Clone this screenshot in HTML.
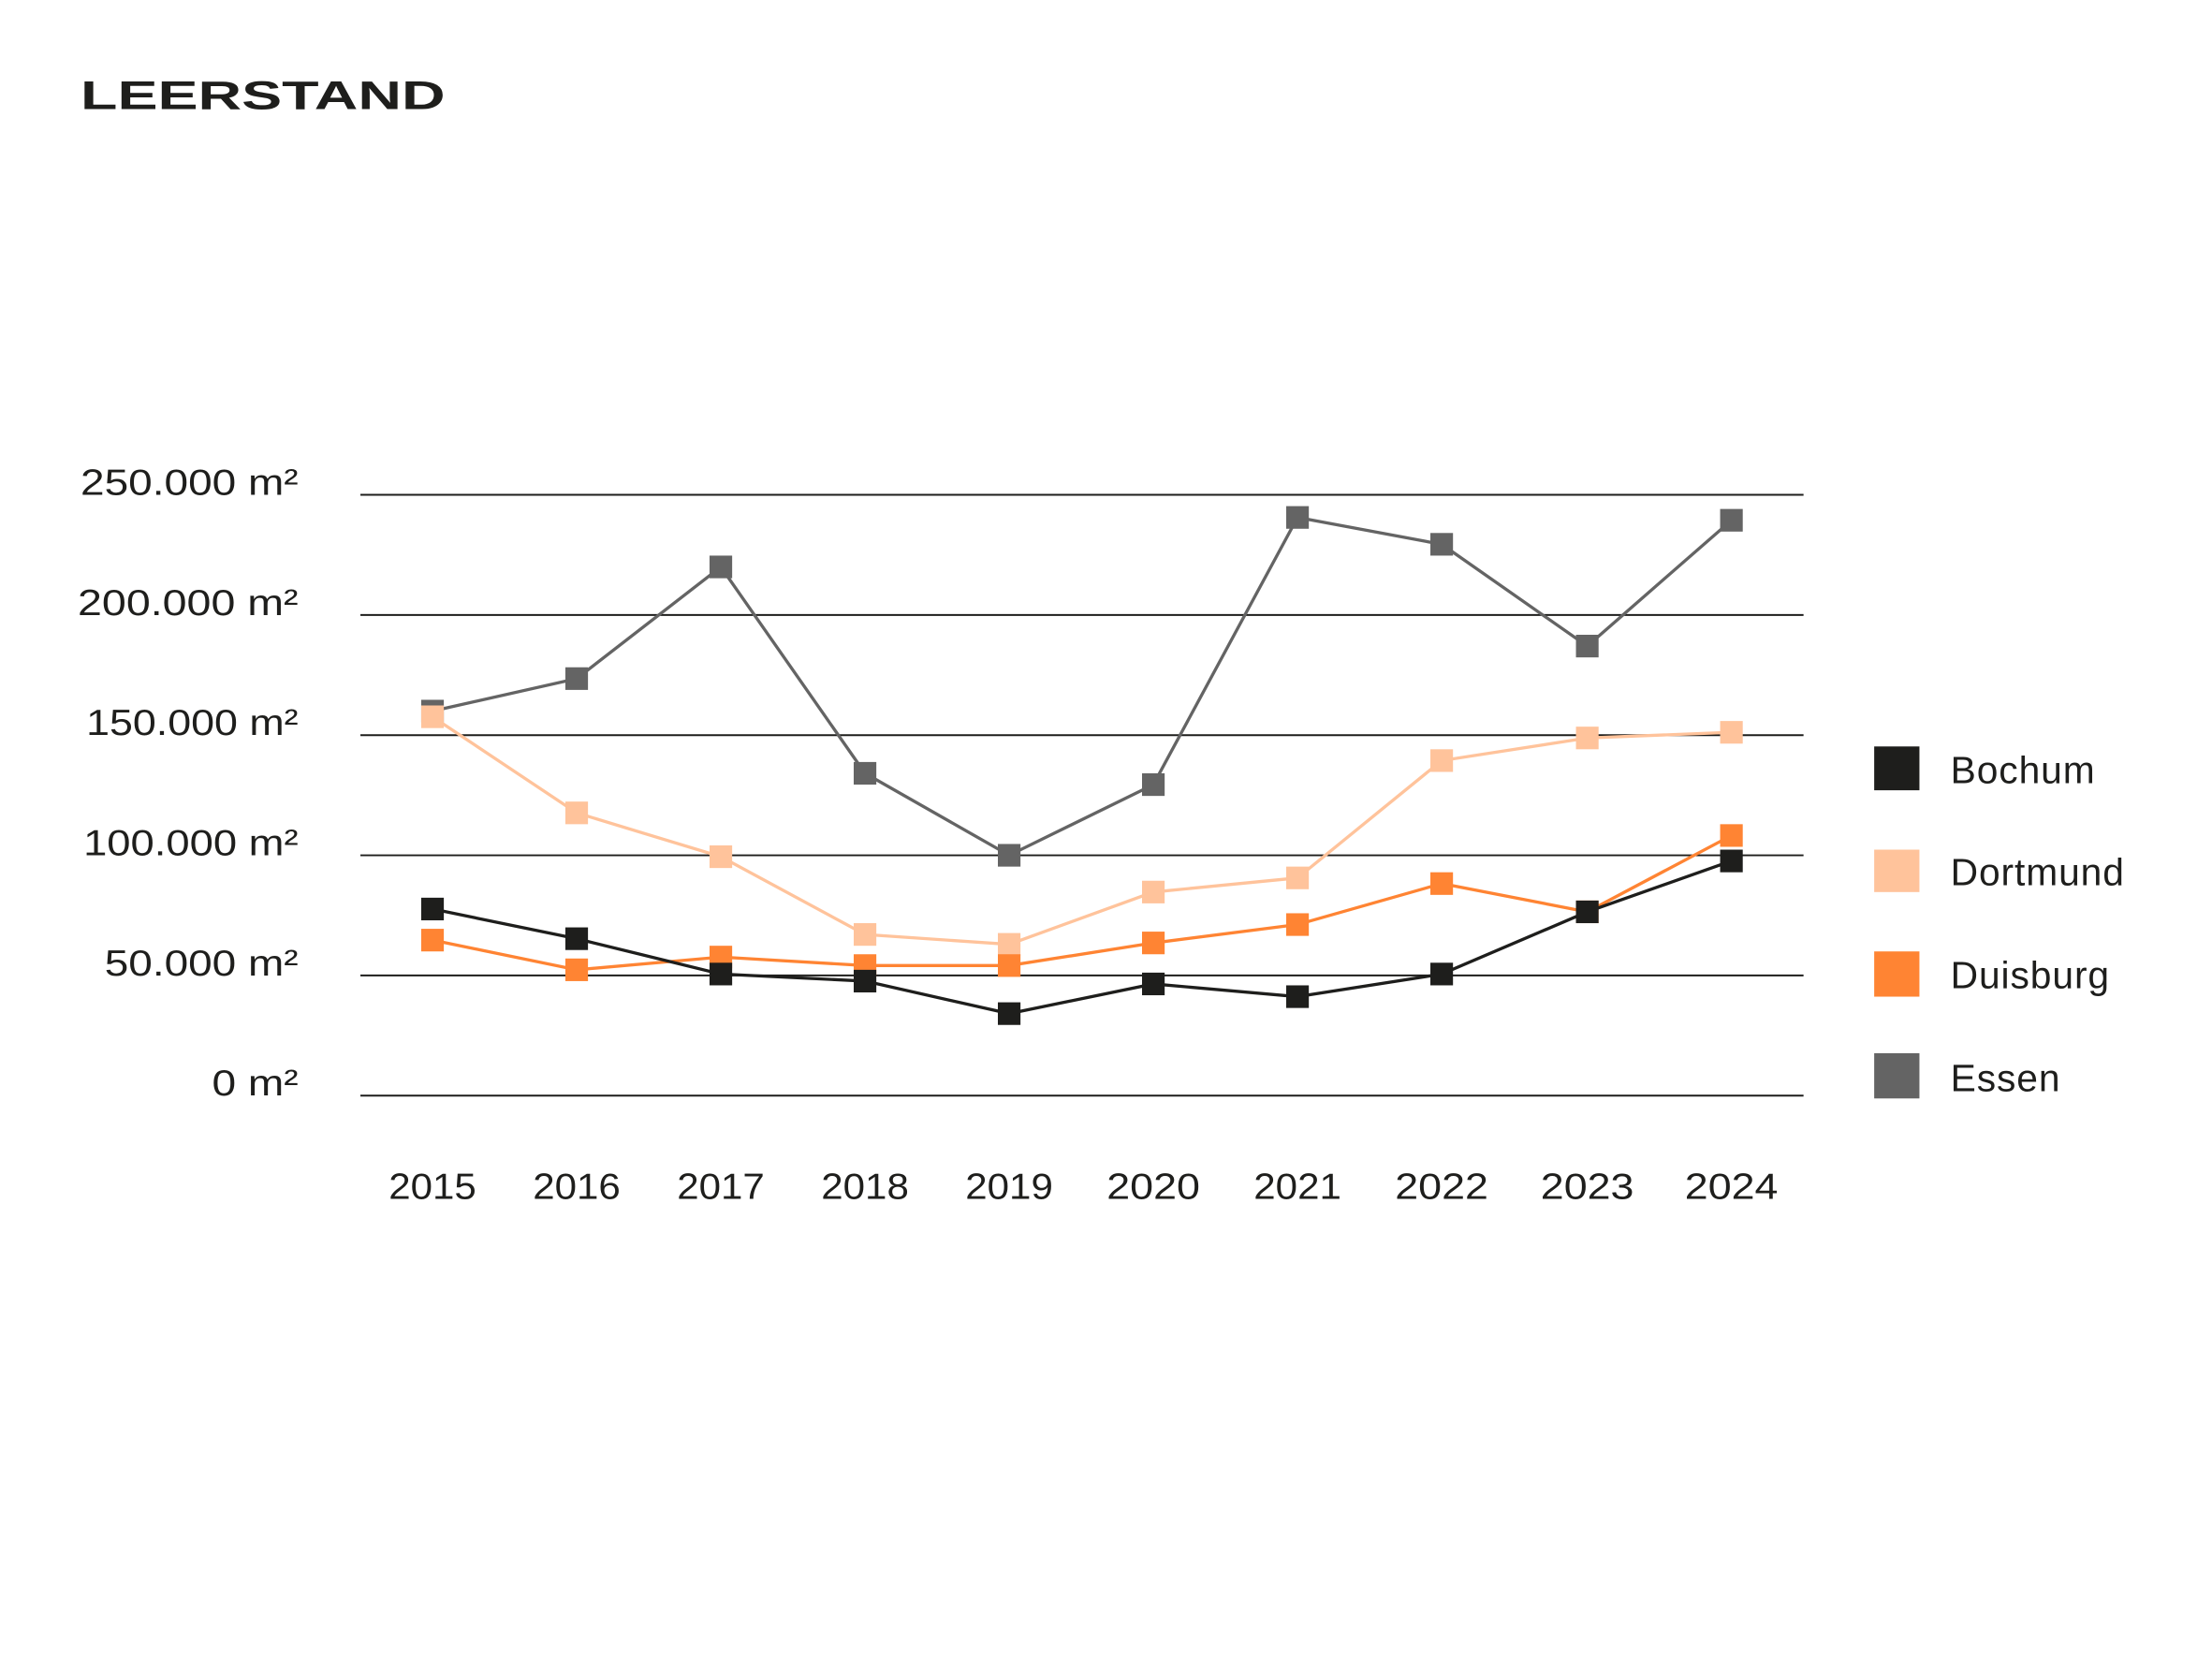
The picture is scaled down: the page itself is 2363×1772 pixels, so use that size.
<!DOCTYPE html>
<html><head><meta charset="utf-8"><style>
html,body{margin:0;padding:0;background:#fff;}
svg{display:block;}
text{font-family:"Liberation Sans",sans-serif;fill:#1e1e1c;}
</style></head><body>
<svg width="2363" height="1772" viewBox="0 0 1565 1173.5" xmlns="http://www.w3.org/2000/svg">
<text x="57" y="77" font-size="28" font-weight="bold" textLength="258" lengthAdjust="spacingAndGlyphs">LEERSTAND</text>
<g stroke="#1e1e1c" stroke-width="1.3">
<line x1="255" x2="1276" y1="350" y2="350"/>
<line x1="255" x2="1276" y1="435" y2="435"/>
<line x1="255" x2="1276" y1="520" y2="520"/>
<line x1="255" x2="1276" y1="605" y2="605"/>
<line x1="255" x2="1276" y1="690" y2="690"/>
<line x1="255" x2="1276" y1="775" y2="775"/>
</g>
<g font-size="26" text-anchor="end" lengthAdjust="spacingAndGlyphs">
<text x="211" y="350" textLength="154" lengthAdjust="spacingAndGlyphs">250.000 m²</text>
<text x="211" y="435" textLength="156" lengthAdjust="spacingAndGlyphs">200.000 m²</text>
<text x="211" y="520" textLength="150" lengthAdjust="spacingAndGlyphs">150.000 m²</text>
<text x="211" y="605" textLength="152" lengthAdjust="spacingAndGlyphs">100.000 m²</text>
<text x="211" y="690" textLength="137" lengthAdjust="spacingAndGlyphs">50.000 m²</text>
<text x="211" y="775" textLength="61" lengthAdjust="spacingAndGlyphs">0 m²</text>
</g>
<g font-size="26" text-anchor="middle">
<text x="306" y="848" textLength="62" lengthAdjust="spacingAndGlyphs">2015</text><text x="408" y="848" textLength="62" lengthAdjust="spacingAndGlyphs">2016</text><text x="510" y="848" textLength="62" lengthAdjust="spacingAndGlyphs">2017</text><text x="612" y="848" textLength="62" lengthAdjust="spacingAndGlyphs">2018</text><text x="714" y="848" textLength="62" lengthAdjust="spacingAndGlyphs">2019</text><text x="816" y="848" textLength="66" lengthAdjust="spacingAndGlyphs">2020</text><text x="918" y="848" textLength="62" lengthAdjust="spacingAndGlyphs">2021</text><text x="1020" y="848" textLength="66" lengthAdjust="spacingAndGlyphs">2022</text><text x="1123" y="848" textLength="66" lengthAdjust="spacingAndGlyphs">2023</text><text x="1225" y="848" textLength="66" lengthAdjust="spacingAndGlyphs">2024</text>
</g>
<!-- Essen -->
<polyline fill="none" stroke="#646464" stroke-width="2.2" points="306,503 408,480 510,401 612,547 714,605 816,555 918,366 1020,385 1123,457 1225,368"/>
<g fill="#646464">
<rect x="298" y="495" width="16" height="16"/><rect x="400" y="472" width="16" height="16"/><rect x="502" y="393" width="16" height="16"/><rect x="604" y="539" width="16" height="16"/><rect x="706" y="597" width="16" height="16"/><rect x="808" y="547" width="16" height="16"/><rect x="910" y="358" width="16" height="16"/><rect x="1012" y="377" width="16" height="16"/><rect x="1115" y="449" width="16" height="16"/><rect x="1217" y="360" width="16" height="16"/>
</g>
<!-- Dortmund -->
<polyline fill="none" stroke="#ffc39b" stroke-width="2.2" points="306,507 408,575 510,606 612,661 714,668 816,631 918,621 1020,538 1123,522 1225,518"/>
<g fill="#ffc39b">
<rect x="298" y="499" width="16" height="16"/><rect x="400" y="567" width="16" height="16"/><rect x="502" y="598" width="16" height="16"/><rect x="604" y="653" width="16" height="16"/><rect x="706" y="660" width="16" height="16"/><rect x="808" y="623" width="16" height="16"/><rect x="910" y="613" width="16" height="16"/><rect x="1012" y="530" width="16" height="16"/><rect x="1115" y="514" width="16" height="16"/><rect x="1217" y="510" width="16" height="16"/>
</g>
<!-- Duisburg -->
<polyline fill="none" stroke="#ff8433" stroke-width="2.2" points="306,665 408,686 510,677 612,683 714,683 816,667 918,654 1020,625 1123,645 1225,591"/>
<g fill="#ff8433">
<rect x="298" y="657" width="16" height="16"/><rect x="400" y="678" width="16" height="16"/><rect x="502" y="669" width="16" height="16"/><rect x="604" y="675" width="16" height="16"/><rect x="706" y="675" width="16" height="16"/><rect x="808" y="659" width="16" height="16"/><rect x="910" y="646" width="16" height="16"/><rect x="1012" y="617" width="16" height="16"/><rect x="1115" y="637" width="16" height="16"/><rect x="1217" y="583" width="16" height="16"/>
</g>
<!-- Bochum -->
<polyline fill="none" stroke="#1e1e1c" stroke-width="2.2" points="306,643 408,664 510,689 612,694 714,717 816,696 918,705 1020,689 1123,645 1225,609"/>
<g fill="#1e1e1c">
<rect x="298" y="635" width="16" height="16"/><rect x="400" y="656" width="16" height="16"/><rect x="502" y="681" width="16" height="16"/><rect x="604" y="686" width="16" height="16"/><rect x="706" y="709" width="16" height="16"/><rect x="808" y="688" width="16" height="16"/><rect x="910" y="697" width="16" height="16"/><rect x="1012" y="681" width="16" height="16"/><rect x="1115" y="637" width="16" height="16"/><rect x="1217" y="601" width="16" height="16"/>
</g>
<!-- Legend -->
<rect x="1326" y="528" width="32" height="31" fill="#1e1e1c"/>
<rect x="1326" y="601" width="32" height="30" fill="#ffc39b"/>
<rect x="1326" y="673" width="32" height="32" fill="#ff8433"/>
<rect x="1326" y="745" width="32" height="32" fill="#646464"/>
<g font-size="27" letter-spacing="0.6">
<text x="1380" y="554">Bochum</text>
<text x="1380" y="626">Dortmund</text>
<text x="1380" y="699">Duisburg</text>
<text x="1380" y="772">Essen</text>
</g>
</svg>
</body></html>
